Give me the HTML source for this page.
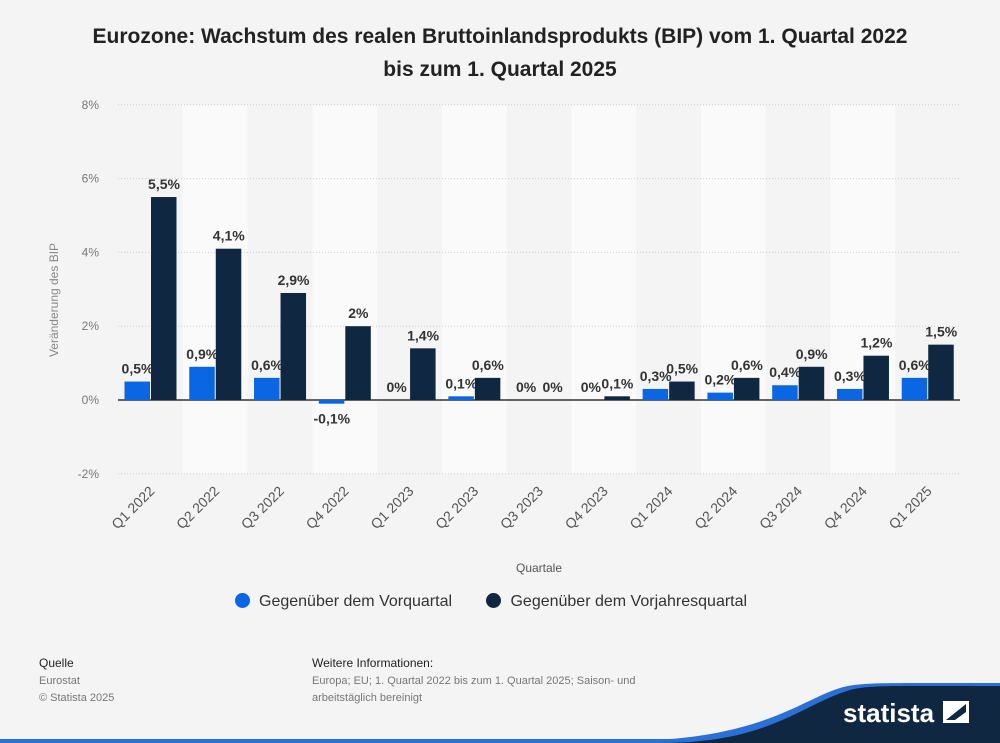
<!DOCTYPE html>
<html><head><meta charset="utf-8"><style>
body{margin:0;width:1000px;height:743px;background:#f4f4f4;font-family:"Liberation Sans",sans-serif;overflow:hidden;position:relative}
.t{position:absolute;white-space:nowrap}
</style></head><body>
<div class="t" style="left:0;width:1000px;top:20px;text-align:center;font-weight:bold;font-size:21px;line-height:33px;color:#222">Eurozone: Wachstum des realen Bruttoinlandsprodukts (BIP) vom 1. Quartal 2022<br>bis zum 1. Quartal 2025</div>
<svg id="chart" width="1000" height="620" style="position:absolute;left:0;top:0"></svg>
<div class="t" style="top:593px;left:235px;font-size:16px;color:#333">
<span><span style="display:inline-block;width:15px;height:15px;border-radius:8px;background:#0b66e4;vertical-align:-2px;margin-right:9px"></span>Gegenüber dem Vorquartal</span>
<span style="margin-left:30px"><span style="display:inline-block;width:15px;height:15px;border-radius:8px;background:#0f2741;vertical-align:-2px;margin-right:9px"></span>Gegenüber dem Vorjahresquartal</span></div>
<div class="t" style="left:39px;top:656px;font-size:12px;color:#222">Quelle</div>
<div class="t" style="left:39px;top:673px;font-size:11px;line-height:17px;color:#777">Eurostat<br>© Statista 2025</div>
<div class="t" style="left:312px;top:656px;font-size:12px;color:#222">Weitere Informationen:</div>
<div class="t" style="left:312px;top:673px;font-size:11px;line-height:17px;color:#777">Europa; EU; 1. Quartal 2022 bis zum 1. Quartal 2025; Saison- und<br>arbeitstäglich bereinigt</div>
<svg width="1000" height="743" style="position:absolute;left:0;top:0">
<rect x="0" y="739" width="1000" height="4" fill="#2a70d6"/>
<path d="M620,741 C760,741 800,700 840,688 C860,682 880,683 1000,683 L1000,743 L620,743Z" fill="#2a70d6"/>
<path d="M660,743 C770,743 800,705 850,690 C870,685 890,686 1000,686 L1000,743Z" fill="#0f2741"/>
<text x="843" y="722" font-family="Liberation Sans" font-weight="bold" font-size="26" fill="#fff">statista</text>
<rect x="943" y="701" width="26" height="22" fill="#fff"/><path d="M946,720 L966,704 L966,712 L955,720Z" fill="#0f2741"/>
</svg>
<script>
const categories=["Q1 2022","Q2 2022","Q3 2022","Q4 2022","Q1 2023","Q2 2023","Q3 2023","Q4 2023","Q1 2024","Q2 2024","Q3 2024","Q4 2024","Q1 2025"];
const vorquartal=[0.5,0.9,0.6,-0.1,0,0.1,0,0,0.3,0.2,0.4,0.3,0.6];
const vorjahr=[5.5,4.1,2.9,2,1.4,0.6,0,0.1,0.5,0.6,0.9,1.2,1.5];
const yTicks=[8,6,4,2,0,-2];
const NS="http://www.w3.org/2000/svg",svg=document.getElementById("chart");
const L=118,R=960,Y0=400,PX=36.9,bw=(R-L)/categories.length;
const y=v=>Y0-v*PX, x=i=>L+i*bw;
const fmt=v=>String(v).replace(".",",")+"%";
function el(t,a,p){const e=document.createElementNS(NS,t);for(const k in a)e.setAttribute(k,a[k]);(p||svg).appendChild(e);return e;}
categories.forEach((c,i)=>{if(i%2==1){const b=el("rect",{x:x(i),y:y(8),width:bw,height:y(-2)-y(8),fill:"#fafafa"});

}});
yTicks.forEach(t=>{const g=el("line",{x1:L,x2:R,y1:y(t),y2:y(t),stroke:t==0?"#333":"#ccc","stroke-width":t==0?1.5:1,"stroke-dasharray":t==0?"":"1,2"});


const l=el("text",{x:99,y:y(t)+4,"text-anchor":"end","font-size":12,fill:"#777","font-family":"Liberation Sans"});l.textContent=t+"%";

});
const yt=el("text",{transform:"translate(58,300) rotate(-90)","text-anchor":"middle","font-size":12,fill:"#888","font-family":"Liberation Sans"});yt.textContent="Veränderung des BIP";


const xt=el("text",{x:539,y:572,"text-anchor":"middle","font-size":12,fill:"#555","font-family":"Liberation Sans"});xt.textContent="Quartale";


function bar(i,v,off,col,name){const bx=x(i)+off,top=Math.min(y(v),Y0),h=Math.max(Math.abs(y(v)-Y0),v==0?0:1);
const r=el("rect",{x:bx,y:top,width:25.5,height:h,fill:col});


const t=el("text",{x:bx+13,y:v<0?y(v)+20:y(v)-8,"text-anchor":"middle","font-size":14,"font-weight":"bold",fill:"#333","font-family":"Liberation Sans"});t.textContent=fmt(v);

}
categories.forEach((c,i)=>{bar(i,vorquartal[i],6.5,"#0b66e4","bar-vorquartal");bar(i,vorjahr[i],33,"#0f2741","bar-vorjahresquartal");
const cx=x(i)+bw/2+5;const t=el("text",{x:cx,y:492,transform:`rotate(-45 ${cx} 492)`,"text-anchor":"end","font-size":14,fill:"#555","font-family":"Liberation Sans"});t.textContent=c;

});
</script>
</body></html>
